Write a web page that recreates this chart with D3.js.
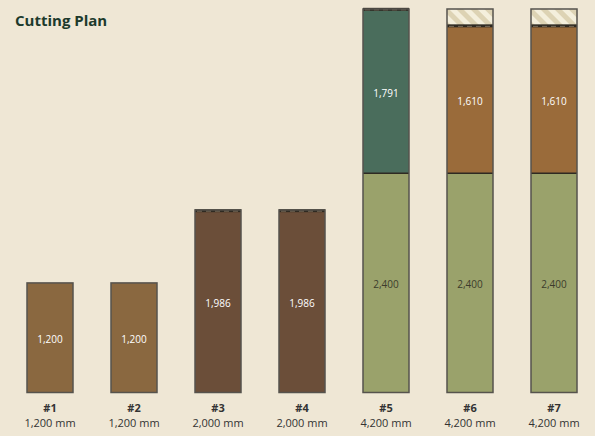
<!DOCTYPE html>
<html>
<head>
<meta charset="utf-8">
<script src="https://cdn.jsdelivr.net/npm/d3@7"></script>
<style>
  body { margin: 0; background: #efe7d5; }
  svg { display: block; font-family: "Open Sans", "Noto Sans", sans-serif; }
</style>
</head>
<body>
<script>
// stock bars and the pieces cut from each (mm)
var stockNames = ["#1", "#2", "#3", "#4", "#5", "#6", "#7"];
var stockLengths = [1200, 1200, 2000, 2000, 4200, 4200, 4200];
var cuts = [
  [1200],
  [1200],
  [1986],
  [1986],
  [2400, 1791],
  [2400, 1610],
  [2400, 1610]
];
var pieceColors = { 1200: "#8a6840", 1986: "#6b4e39", 2400: "#9aa26b", 1791: "#4a6d5c", 1610: "#9a6b3a" };
var darkText = { 2400: true };

var width = 595, height = 436;

var svg = d3.select("body").append("svg")
  .attr("width", width)
  .attr("height", height);

svg.append("rect").attr("width", width).attr("height", height).attr("fill", "#efe7d5");

var defs = svg.append("defs");
var hatch = defs.append("pattern")
  .attr("id", "hatch")
  .attr("patternUnits", "userSpaceOnUse")
  .attr("width", 10).attr("height", 10)
  .attr("patternTransform", "rotate(-45)");
hatch.append("rect").attr("width", 10).attr("height", 10).attr("fill", "#f4efdc");
hatch.append("rect").attr("width", 5).attr("height", 10).attr("fill", "#ddd3b4");

var x = d3.scaleBand()
  .domain(stockNames)
  .range([8, 596])
  .paddingInner(38 / 84)
  .paddingOuter(19 / 84);

var y = d3.scaleLinear()
  .domain([0, 4200])
  .range([392.5, 9]);

svg.append("text")
  .attr("x", 15).attr("y", 26)
  .attr("font-size", 15).attr("font-weight", "bold")
  .attr("fill", "#1d3a2c")
  .text("Cutting Plan");

var bars = svg.selectAll(".stock")
  .data(stockNames)
  .enter().append("g")
  .attr("class", "stock")
  .attr("transform", function(d) { return "translate(" + x(d) + ",0)"; });

bars.each(function(name, i) {
  var g = d3.select(this);
  var bw = x.bandwidth();
  var pieces = cuts[i];
  var total = stockLengths[i];
  var acc = 0;
  var segs = pieces.map(function(p) { var s = { len: p, start: acc }; acc += p; return s; });

  // waste region above last piece
  if (acc < total) {
    g.append("rect")
      .attr("x", 0).attr("width", bw)
      .attr("y", y(total)).attr("height", y(acc) - y(total))
      .attr("fill", "url(#hatch)");
  }

  g.selectAll(".piece").data(segs).enter().append("rect")
    .attr("x", 0).attr("width", bw)
    .attr("y", function(s) { return y(s.start + s.len); })
    .attr("height", function(s) { return y(s.start) - y(s.start + s.len); })
    .attr("fill", function(s) { return pieceColors[s.len]; });

  // separators between pieces
  g.selectAll(".sep").data(segs.slice(1)).enter().append("line")
    .attr("x1", 0).attr("x2", bw)
    .attr("y1", function(s) { return y(s.start); })
    .attr("y2", function(s) { return y(s.start); })
    .attr("stroke", "#2e2a22").attr("stroke-width", 1.5);

  // kerf band at the end of the last cut
  if (acc < total) {
    var ky = y(acc);
    g.append("rect")
      .attr("x", 0).attr("width", bw)
      .attr("y", ky - 2).attr("height", 3)
      .attr("fill", "#2f2a22");
    g.append("line")
      .attr("x1", 2).attr("x2", bw)
      .attr("y1", ky).attr("y2", ky)
      .attr("stroke", "#7b6e5c").attr("stroke-width", 1)
      .attr("stroke-dasharray", "5,4");
  }

  g.selectAll(".plabel").data(segs).enter().append("text")
    .attr("x", bw / 2)
    .attr("y", function(s) { return (y(s.start) + y(s.start + s.len)) / 2 + 5; })
    .attr("text-anchor", "middle")
    .attr("font-size", 10)
    .attr("fill", function(s) { return darkText[s.len] ? "#3c3c2c" : "#ffffff"; })
    .text(function(s) { return d3.format(",")(s.len); });

  g.append("rect")
    .attr("x", 0).attr("width", bw)
    .attr("y", y(total)).attr("height", y(0) - y(total))
    .attr("fill", "none")
    .attr("stroke", "#56534d").attr("stroke-width", 1.5);

  g.append("text")
    .attr("x", bw / 2).attr("y", 412)
    .attr("text-anchor", "middle")
    .attr("font-size", 11).attr("font-weight", "bold")
    .attr("fill", "#333")
    .text(name);

  g.append("text")
    .attr("x", bw / 2).attr("y", 427)
    .attr("text-anchor", "middle")
    .attr("font-size", 11)
    .attr("fill", "#333")
    .text(d3.format(",")(total) + " mm");
});
</script>
</body>
</html>
